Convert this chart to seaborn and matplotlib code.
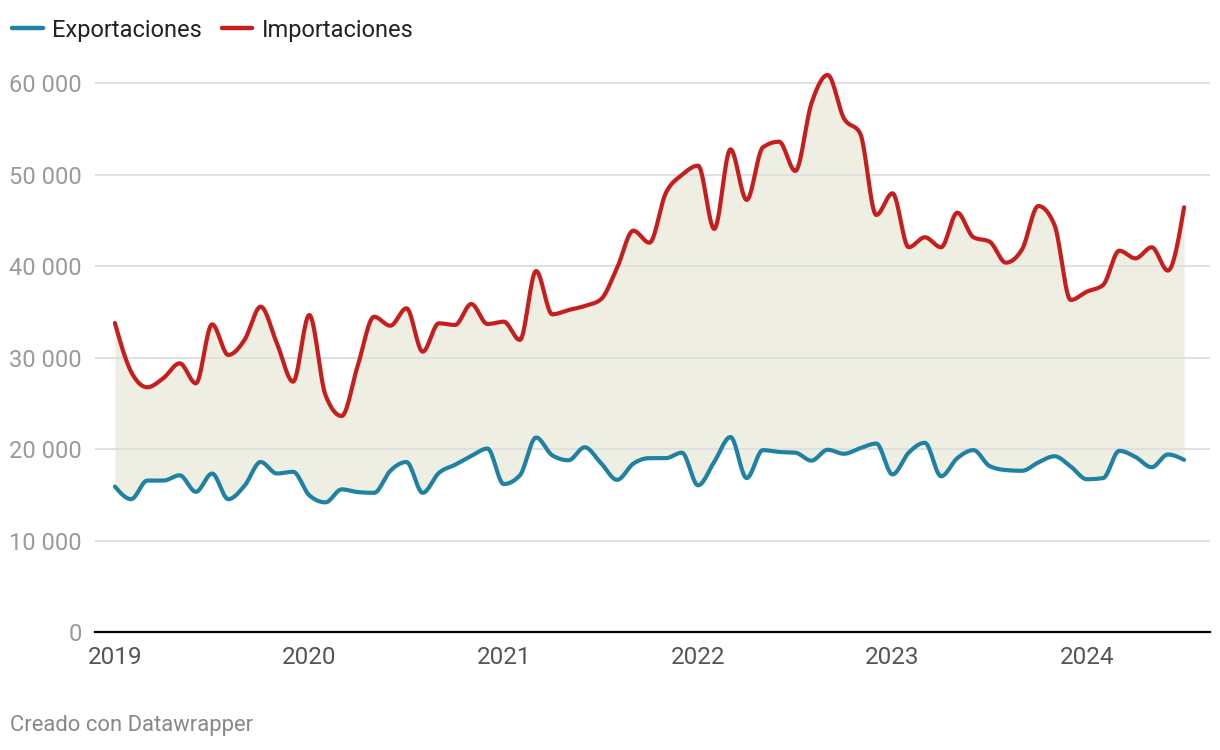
import numpy as np
import pandas as pd
import matplotlib
matplotlib.use("Agg")
import matplotlib.pyplot as plt
import seaborn as sns
from matplotlib.lines import Line2D

# ---- data (monthly, Jan 2019 .. Jul 2024) ----
start_year = 2019
exportaciones = [
    15900, 14520, 16550, 16550, 17125, 15320, 17320, 14520, 15975, 18580, 17320, 17510,
    14940, 14170, 15590, 15290, 15210, 17620, 18580, 15210, 17390, 18280, 19230, 20050,
    16170, 17125, 21260, 19310, 18770, 20190, 18470, 16630, 18400, 19000, 19000, 19600,
    16030, 18610, 21310, 16820, 19880, 19680, 19600, 18730, 19920, 19480, 20080, 20600,
    17220, 19600, 20680, 17020, 19000, 19880, 18130, 17700, 17620, 18530, 19210, 18090,
    16700, 16820, 19800, 19130, 18010, 19400, 18810,
]
importaciones = [
    33770, 28450, 26750, 27760, 29370, 27180, 33630, 30280, 31920, 35560, 31550, 27360,
    34650, 25900, 23610, 29180, 34460, 33480, 35380, 30640, 33740, 33560, 35850, 33660,
    33920, 31920, 39460, 34720, 35190, 35630, 36360, 39800, 43860, 42550, 47950, 49950,
    50970, 44050, 52760, 47220, 52980, 53590, 50390, 57790, 60880, 56150, 54510, 45580,
    47950, 42050, 43140, 42050, 45830, 43140, 42660, 40370, 41830, 46560, 44490, 36290,
    37200, 37930, 41680, 40840, 42050, 39500, 46420,
]
series_names = ["Exportaciones", "Importaciones"]
year_ticks = [2019, 2020, 2021, 2022, 2023, 2024]
y_ticks = [0, 10000, 20000, 30000, 40000, 50000, 60000]
footer = "Creado con Datawrapper"

BLUE = "#1f82a3"
RED = "#c71e1d"
FILL = "#efeee3"

def monotone_curve(x, y, n=16):
    """d3 monotoneX-style cubic Hermite rendering of the series."""
    x = np.asarray(x, float); y = np.asarray(y, float)
    h = np.diff(x); d = np.diff(y) / h
    m = np.zeros_like(y)
    for i in range(1, len(y) - 1):
        s0, s1 = d[i - 1], d[i]
        p = (s0 * h[i] + s1 * h[i - 1]) / (h[i - 1] + h[i])
        m[i] = (np.sign(s0) + np.sign(s1)) * min(abs(s0), abs(s1), 0.5 * abs(p))
    m[0] = (3 * d[0] - m[1]) / 2
    m[-1] = (3 * d[-1] - m[-2]) / 2
    xs, ys = [], []
    for i in range(len(y) - 1):
        t = np.linspace(0, 1, n, endpoint=False)
        h00 = 2 * t**3 - 3 * t**2 + 1
        h10 = t**3 - 2 * t**2 + t
        h01 = -2 * t**3 + 3 * t**2
        h11 = t**3 - t**2
        xs.append(x[i] + t * h[i])
        ys.append(h00 * y[i] + h10 * h[i] * m[i] + h01 * y[i + 1] + h11 * h[i] * m[i + 1])
    xs.append([x[-1]]); ys.append([y[-1]])
    return np.concatenate(xs), np.concatenate(ys)

sns.set_theme(style="white")
plt.rcParams["font.family"] = ["Roboto", "DejaVu Sans"]

n = len(exportaciones)
t = start_year + np.arange(n) / 12.0
xe, ye = monotone_curve(t, exportaciones)
xi, yi = monotone_curve(t, importaciones)

fig = plt.figure(figsize=(12.2, 7.5), dpi=100)
ax = fig.add_axes([95 / 1220, 118 / 750, 1115 / 1220, (632 - 55.6) / 750])

ax.fill_between(xe, ye, yi, color=FILL, lw=0, zorder=0.5)
for yv in y_ticks[1:]:
    ax.axhline(yv, color="#e0e0e0", lw=1.4, zorder=1)

df = pd.concat([
    pd.DataFrame({"x": xe, "y": ye, "serie": series_names[0]}),
    pd.DataFrame({"x": xi, "y": yi, "serie": series_names[1]}),
])
sns.lineplot(data=df, x="x", y="y", hue="serie", palette=[BLUE, RED],
             linewidth=3.0, sort=False, estimator=None, legend=False, ax=ax, zorder=3)

ax.set_xlim(start_year - 1.228 / 12, start_year + 67.6 / 12)
ax.set_ylim(0, 63000)
ax.set_xticks(year_ticks)
ax.set_xticklabels([str(y) for y in year_ticks], fontsize=17.5, color="#555555")
ax.set_yticks(y_ticks)
ax.set_yticklabels([f"{v:,}".replace(",", " ") for v in y_ticks], fontsize=17, color="#9a9a9a")
ax.tick_params(axis="both", length=0)
ax.tick_params(axis="y", pad=9.5)
ax.tick_params(axis="x", pad=10)
ax.set_xlabel(""); ax.set_ylabel("")
for s in ["top", "right", "left"]:
    ax.spines[s].set_visible(False)
ax.spines["bottom"].set_color("#000000")
ax.spines["bottom"].set_linewidth(1.6)
ax.spines["bottom"].set_zorder(4)

handles = [Line2D([], [], color=BLUE, lw=3.2, solid_capstyle="round"),
           Line2D([], [], color=RED, lw=3.2, solid_capstyle="round")]
leg = fig.legend(handles, series_names, loc="center left", bbox_to_anchor=(0.0, 1 - 30 / 750),
                 ncol=2, frameon=False, fontsize=17, handlelength=1.3, handletextpad=0.4,
                 columnspacing=0.85, borderaxespad=0.1)
for txt in leg.get_texts():
    txt.set_color("#222222")

fig.text(10 / 1220, 1 - 726 / 750, footer, fontsize=15.8, color="#888888", va="center", ha="left")

fig.savefig("out.png", dpi=100)
